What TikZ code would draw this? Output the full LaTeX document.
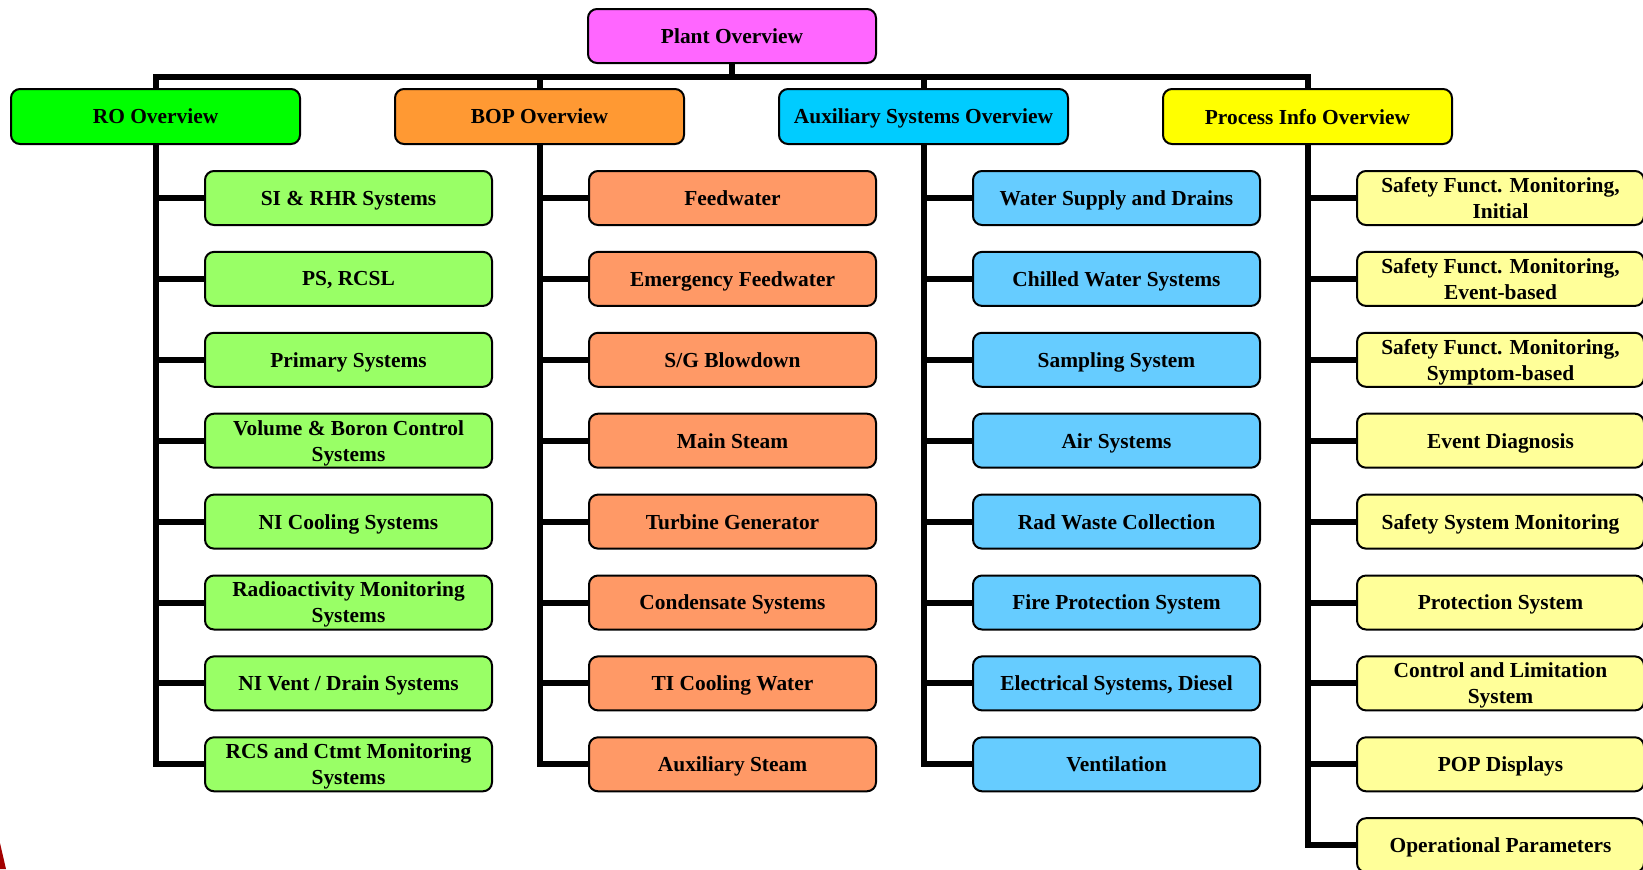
\documentclass[tikz,border=0pt]{standalone}
\usepackage{fontspec}
\setmainfont{Liberation Serif}
\usetikzlibrary{positioning}
\definecolor{plantpink}{HTML}{FF66FF}
\definecolor{rogreen}{HTML}{00FF00}
\definecolor{rolight}{HTML}{99FF66}
\definecolor{boporange}{HTML}{FF9933}
\definecolor{boplight}{HTML}{FF9966}
\definecolor{auxblue}{HTML}{00CCFF}
\definecolor{auxlight}{HTML}{66CCFF}
\definecolor{piyellow}{HTML}{FFFF00}
\definecolor{pilight}{HTML}{FFFF99}
\definecolor{cornerred}{HTML}{A30000}

\begin{document}
\begin{tikzpicture}[
    x=0.5pt, y=-0.5pt,
    node distance=13.45pt and 47.5pt,
    every node/.style={font=\bfseries\fontsize{10.7}{13}\selectfont},
    ovbox/.style={rectangle, draw=black, line width=1pt, rounded corners=4.5pt,
                  minimum width=144.5pt, minimum height=27.5pt, align=center,
                  inner sep=1pt, outer sep=0pt, text depth=-0.8pt},
    kidbox/.style={ovbox, minimum width=143.5pt, minimum height=27pt},
    trunk/.style={line width=3pt, black},
]
\useasboundingbox (0,0) rectangle (1643,869);

% Top level
\node[ovbox, fill=plantpink, minimum width=144pt, minimum height=27pt] (plant) at (732,36) {Plant Overview};
\coordinate (busmid) at (732,76.5);

\node[ovbox, fill=rogreen] (ro) at (155.5,116.5) {RO Overview};
\node[ovbox, fill=boporange, right=of ro] (bop) {BOP Overview};
\node[ovbox, fill=auxblue, right=of bop] (aux) {Auxiliary Systems Overview};
\node[ovbox, fill=piyellow, right=of aux] (pi) {Process Info Overview};

% RO column
\node[kidbox, fill=rolight, below=13.5pt of ro, xshift=96.5pt] (ro1) {SI \& RHR Systems};
\node[kidbox, fill=rolight, below=of ro1] (ro2) {PS, RCSL};
\node[kidbox, fill=rolight, below=of ro2] (ro3) {Primary Systems};
\node[kidbox, fill=rolight, below=of ro3] (ro4) {Volume \& Boron Control\\Systems};
\node[kidbox, fill=rolight, below=of ro4] (ro5) {NI Cooling Systems};
\node[kidbox, fill=rolight, below=of ro5] (ro6) {Radioactivity Monitoring\\Systems};
\node[kidbox, fill=rolight, below=of ro6] (ro7) {NI Vent / Drain Systems};
\node[kidbox, fill=rolight, below=of ro7] (ro8) {RCS and Ctmt Monitoring\\Systems};

% BOP column
\node[kidbox, fill=boplight, below=13.5pt of bop, xshift=96.5pt] (bop1) {Feedwater};
\node[kidbox, fill=boplight, below=of bop1] (bop2) {Emergency Feedwater};
\node[kidbox, fill=boplight, below=of bop2] (bop3) {S/G Blowdown};
\node[kidbox, fill=boplight, below=of bop3] (bop4) {Main Steam};
\node[kidbox, fill=boplight, below=of bop4] (bop5) {Turbine Generator};
\node[kidbox, fill=boplight, below=of bop5] (bop6) {Condensate Systems};
\node[kidbox, fill=boplight, below=of bop6] (bop7) {TI Cooling Water};
\node[kidbox, fill=boplight, below=of bop7] (bop8) {Auxiliary Steam};

% Auxiliary column
\node[kidbox, fill=auxlight, below=13.5pt of aux, xshift=96.5pt] (aux1) {Water Supply and Drains};
\node[kidbox, fill=auxlight, below=of aux1] (aux2) {Chilled Water Systems};
\node[kidbox, fill=auxlight, below=of aux2] (aux3) {Sampling System};
\node[kidbox, fill=auxlight, below=of aux3] (aux4) {Air Systems};
\node[kidbox, fill=auxlight, below=of aux4] (aux5) {Rad Waste Collection};
\node[kidbox, fill=auxlight, below=of aux5] (aux6) {Fire Protection System};
\node[kidbox, fill=auxlight, below=of aux6] (aux7) {Electrical Systems, Diesel};
\node[kidbox, fill=auxlight, below=of aux7] (aux8) {Ventilation};

% Process info column
\node[kidbox, fill=pilight, below=13.5pt of pi, xshift=96.5pt] (pi1) {Safety Funct. Monitoring,\\Initial};
\node[kidbox, fill=pilight, below=of pi1] (pi2) {Safety Funct. Monitoring,\\Event-based};
\node[kidbox, fill=pilight, below=of pi2] (pi3) {Safety Funct. Monitoring,\\Symptom-based};
\node[kidbox, fill=pilight, below=of pi3] (pi4) {Event Diagnosis};
\node[kidbox, fill=pilight, below=of pi4] (pi5) {Safety System Monitoring};
\node[kidbox, fill=pilight, below=of pi5] (pi6) {Protection System};
\node[kidbox, fill=pilight, below=of pi6] (pi7) {Control and Limitation\\System};
\node[kidbox, fill=pilight, below=of pi7] (pi8) {POP Displays};
\node[kidbox, fill=pilight, below=of pi8] (pi9) {Operational Parameters};

% Bus from the plant overview
\draw[trunk] (plant.south) -- (busmid);
\draw[trunk] (ro.north) |- (busmid) -| (pi.north);
\draw[trunk] (bop.north) -- (bop.north |- busmid);
\draw[trunk] (aux.north) -- (aux.north |- busmid);

% Column trunks
\draw[trunk] (ro.south) |- (ro8.west);
\draw[trunk] (bop.south) |- (bop8.west);
\draw[trunk] (aux.south) |- (aux8.west);
\draw[trunk] (pi.south) |- (pi9.west);

% Branches
\foreach \k in {1,...,7} {
  \draw[trunk] (ro.south |- ro\k.west) -- (ro\k.west);
  \draw[trunk] (bop.south |- bop\k.west) -- (bop\k.west);
  \draw[trunk] (aux.south |- aux\k.west) -- (aux\k.west);
}
\foreach \k in {1,...,8}
  \draw[trunk] (pi.south |- pi\k.west) -- (pi\k.west);

% Corner mark
\fill[cornerred] (0,843) -- (6,869) -- (0,869) -- cycle;

\end{tikzpicture}
\end{document}
